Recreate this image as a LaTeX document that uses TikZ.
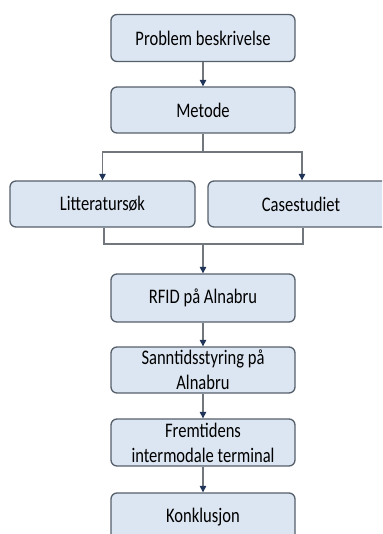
\documentclass[tikz,border=0pt]{standalone}
\usepackage{fontspec}
\setmainfont[FakeStretch=0.80]{Carlito}
\usetikzlibrary{arrows.meta}
\definecolor{boxfill}{HTML}{DCE6F2}
\definecolor{boxline}{HTML}{56606B}
\definecolor{linkgray}{HTML}{72777D}
\definecolor{tipnavy}{HTML}{1F3457}
\begin{document}
\begin{tikzpicture}[x=1pt,y=-1pt,
  stepbox/.style={draw=boxline, line width=1.3pt, fill=boxfill, rounded corners=6pt,
    minimum width=184pt, minimum height=47pt, inner sep=0pt, align=center,
    font=\fontsize{20.7}{25}\selectfont, text=black},
  link/.style={draw=linkgray, line width=1.1pt},
  arrowlink/.style={link, -{Triangle[width=6.5pt,length=6.5pt,fill=tipnavy,color=tipnavy]}}]
\useasboundingbox (0,0) rectangle (382,534);
\clip (0,0) rectangle (382,534);

% boxes
\node[stepbox] (prob) at (203,38) {Problem beskrivelse};
\node[stepbox, minimum height=46pt] (met) at (203,110) {Metode};
\node[stepbox, minimum width=185pt, minimum height=46pt] (lit) at (102.5,204) {Litteratursøk};
\node[stepbox, minimum width=186pt, minimum height=46pt] (case) at (301,204) {Casestudiet};
\node[stepbox, minimum height=48pt] (rfid) at (203,298) {RFID på Alnabru};
\node[stepbox, minimum height=46pt] (sann) at (203,370) {\raisebox{-3pt}{\parbox{184pt}{\centering Sanntidsstyring på\\Alnabru}}};
\node[stepbox, minimum height=47pt] (frem) at (203,442.5) {\raisebox{-1pt}{\parbox{184pt}{\centering Fremtidens\\intermodale terminal}}};
\node[stepbox, minimum height=48pt] (konk) at (203,517) {Konklusjon};

% junction points of the branching connectors
\coordinate (split) at (203,152);
\coordinate (join) at (203,244);

% connectors
\draw[arrowlink] (prob) -- (met);
\draw[link] (met) -- (split);
\draw[arrowlink] (split) -| (lit.north);
\draw[arrowlink] (split) -| ([xshift=1pt]case.north);
\draw[link] ([xshift=1.5pt]lit.south) |- (join) -| ([xshift=2pt]case.south);
\draw[arrowlink] (join) -- (rfid);
\draw[arrowlink] (rfid) -- (sann);
\draw[arrowlink] (sann) -- (frem);
\draw[arrowlink] (frem) -- (konk);
\end{tikzpicture}
\end{document}
